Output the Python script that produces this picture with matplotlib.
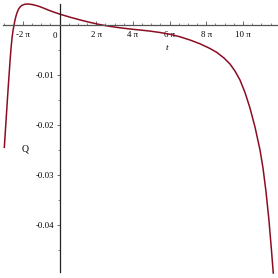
import numpy as np
import matplotlib
matplotlib.use("Agg")
import matplotlib.pyplot as plt
from matplotlib.ticker import MultipleLocator, FixedLocator

# Data
t_vals = [-9.45, -9.16, -8.82, -8.47, -8.30, -8.13, -7.96, -7.79, -7.62, -7.45,
          -7.28, -7.05, -6.76, -6.42, -5.91, -5.39, -4.71, -4.02, -3.34, -2.48,
          -1.63, -0.77, 0.09, 1.80, 3.51, 5.22, 6.93, 8.65, 10.36, 12.07,
          13.78, 15.49, 17.21, 18.92, 20.63, 22.34, 24.06, 25.77, 26.96, 28.16,
          29.19, 30.04, 30.90, 31.76, 32.61, 33.47, 34.33, 34.84, 35.35, 35.87,
          36.30, 36.60]
q_vals = [-0.02440, -0.01914, -0.01304, -0.00714, -0.00454, -0.00254, -0.00104, 0.00006, 0.00106, 0.00186,
          0.00250, 0.00316, 0.00366, 0.00400, 0.00422, 0.00426, 0.00416, 0.00396, 0.00372, 0.00332,
          0.00292, 0.00256, 0.00222, 0.00162, 0.00108, 0.00058, 0.00014, -0.00022, -0.00050, -0.00074,
          -0.00094, -0.00116, -0.00144, -0.00180, -0.00230, -0.00294, -0.00370, -0.00464, -0.00544, -0.00654,
          -0.00774, -0.00914, -0.01094, -0.01344, -0.01654, -0.02034, -0.02494, -0.02854, -0.03322, -0.03910,
          -0.04510, -0.04954]

x_ticks = [-2*np.pi, 2*np.pi, 4*np.pi, 6*np.pi, 8*np.pi, 10*np.pi]
x_labels = ["-2 π", "2 π", "4 π", "6 π", "8 π", "10 π"]
y_ticks = [-0.04, -0.03, -0.02, -0.01]
y_labels = ["-0.04", "-0.03", "-0.02", "-0.01"]

fig = plt.figure(figsize=(2.78, 2.78), dpi=100)
ax = fig.add_axes([0, 0, 1, 1])
ax.set_xlim(-10.19, 37.41)
ax.set_ylim(-0.05054, 0.00506)

ax.plot(t_vals, q_vals, color="#8c0d22", lw=1.1, solid_joinstyle="round")

axcol = "#555555"
for s in ["top", "right"]:
    ax.spines[s].set_visible(False)
ax.spines["left"].set_position(("data", 0))
ax.spines["bottom"].set_position(("data", 0))
ax.spines["left"].set_color("#222222")
ax.spines["bottom"].set_color(axcol)
ax.spines["left"].set_linewidth(0.9)
ax.spines["bottom"].set_linewidth(0.9)
ax.spines["bottom"].set_bounds(-9.7, 37.41)
ax.spines["left"].set_bounds(-0.0494, 0.0043)

serif = "Liberation Serif"
fs = 6.3
ax.set_xticks(x_ticks)
ax.set_xticklabels(x_labels, fontfamily=serif, fontsize=fs)
ax.xaxis.set_minor_locator(MultipleLocator(np.pi / 2))
ax.tick_params(axis="x", which="both", direction="in", colors=axcol, pad=4)
ax.tick_params(axis="x", which="major", length=3, width=0.6)
ax.tick_params(axis="x", which="minor", length=1.5, width=0.5)
for lab in ax.get_xticklabels():
    lab.set_color("black")

ax.set_yticks(y_ticks)
ax.set_yticklabels(y_labels, fontfamily=serif, fontsize=fs)
ax.yaxis.set_minor_locator(FixedLocator([-0.045, -0.035, -0.025, -0.015, -0.005]))
ax.tick_params(axis="y", which="both", direction="out", colors=axcol, pad=1.5)
ax.tick_params(axis="y", which="major", length=2.5, width=0.6)
ax.tick_params(axis="y", which="minor", length=1.5, width=0.5)
for lab in ax.get_yticklabels():
    lab.set_color("black")

ax.annotate("0", xy=(0, 0), xytext=(-3, -8), textcoords="offset points",
            ha="center", va="center", fontfamily=serif, fontsize=fs)
ax.annotate("t", xy=(18.4, 0), xytext=(0, -16), textcoords="offset points",
            ha="center", va="center", fontfamily=serif, fontstyle="italic", fontsize=6.8)
ax.annotate("Q", xy=(0, -0.0248), xytext=(-25, 0), textcoords="offset points",
            ha="center", va="center", fontfamily=serif, fontsize=7)

fig.savefig("out.png", dpi=100)
